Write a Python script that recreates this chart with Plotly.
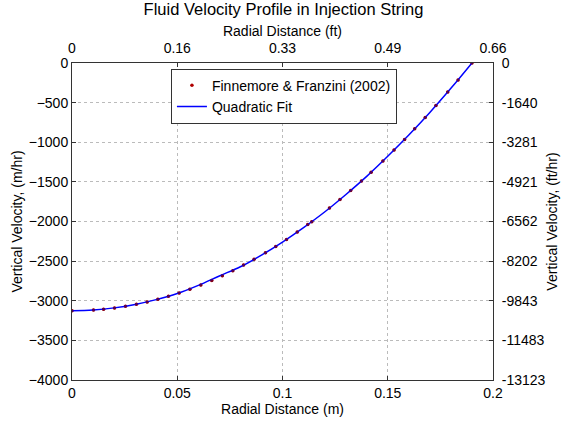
import plotly.graph_objects as go

# Measured data (radial distance in m, vertical velocity in m/hr)
radius_m = [0.0, 0.0102, 0.0150, 0.0202, 0.0254, 0.0306, 0.0357, 0.0408, 0.0458, 0.0509,
            0.0560, 0.0612, 0.0664, 0.0714, 0.0764, 0.0815, 0.0865, 0.0919, 0.0968, 0.1019,
            0.1070, 0.1120, 0.1139, 0.1223, 0.1273, 0.1324, 0.1375, 0.1421, 0.1477, 0.1530,
            0.1580, 0.1628, 0.1678, 0.1729, 0.1785, 0.1834, 0.1900]
velocity_mhr = [-3125, -3116, -3106, -3090, -3069, -3044, -3015, -2981, -2943, -2901,
                -2854, -2801, -2743, -2684, -2620, -2550, -2477, -2394, -2314, -2226,
                -2134, -2039, -2002, -1830, -1722, -1608, -1488, -1377, -1237, -1099,
                -964, -831, -688, -537, -367, -213, 0]

# Quadratic fit curve
fit_r = [0.0, 0.01, 0.02, 0.03, 0.04, 0.05, 0.06, 0.07, 0.08, 0.09, 0.10,
         0.11, 0.12, 0.13, 0.14, 0.15, 0.16, 0.17, 0.18, 0.19]
fit_v = [-3125, -3116, -3090, -3046, -2986, -2909, -2806, -2687, -2571, -2424, -2259,
         -2077, -1880, -1662, -1430, -1177, -909, -624, -320, 0]

# Axis ticks
x_ticks = [0, 0.05, 0.1, 0.15, 0.2]
x_ticks_m = ["0", "0.05", "0.1", "0.15", "0.2"]
x_ticks_ft = ["0", "0.16", "0.33", "0.49", "0.66"]
y_ticks = [0, -500, -1000, -1500, -2000, -2500, -3000, -3500, -4000]
y_ticks_ft = ["0", "-1640", "-3281", "-4921", "-6562", "-8202", "-9843", "-11483", "-13123"]

fam = "Liberation Sans, Arial, sans-serif"
tick_font = dict(family=fam, size=14, color="#000")
title_font = dict(family=fam, size=14, color="#000")

fig = go.Figure()
fig.add_trace(go.Scatter(x=radius_m, y=velocity_mhr, mode="markers",
                         name="Finnemore & Franzini (2002)",
                         marker=dict(color="#b00000", size=3.5, line=dict(width=0))))
fig.add_trace(go.Scatter(x=fit_r, y=fit_v, mode="lines", name="Quadratic Fit",
                         line=dict(color="#0000ff", width=1.5, shape="spline")))
fig.add_trace(go.Scatter(x=radius_m, y=velocity_mhr, mode="markers", showlegend=False,
                         hoverinfo="skip",
                         marker=dict(color="#600030", size=3, opacity=0.7, line=dict(width=0))))
fig.add_trace(go.Scatter(x=[0, 0.2], y=[0, -4000], xaxis="x2", yaxis="y2",
                         mode="markers", marker=dict(opacity=0), showlegend=False,
                         hoverinfo="skip"))

axis_common = dict(showline=True, linecolor="#333", linewidth=1, ticks="inside",
                   ticklen=4, tickcolor="#333", zeroline=False, tickfont=tick_font)

fig.update_layout(
    width=575, height=423,
    margin=dict(l=72, r=82, t=63, b=40),
    paper_bgcolor="white", plot_bgcolor="white",
    font=tick_font,
    title=dict(text="Fluid Velocity Profile in Injection String", x=0.493, xanchor="center",
               y=0.993, yanchor="top", font=dict(family=fam, size=16.5, color="#000")),
    xaxis=dict(range=[0, 0.2], tickvals=x_ticks, ticktext=x_ticks_m,
               title=dict(text="Radial Distance (m)", standoff=0, font=title_font),
               showgrid=True, gridcolor="#bbb", griddash="dot", mirror=False, **axis_common),
    yaxis=dict(range=[-4000, 0], tickvals=y_ticks,
               title=dict(text="Vertical Velocity, (m/hr)", standoff=2, font=title_font),
               showgrid=True, gridcolor="#bbb", griddash="dot", mirror=False, **axis_common),
    xaxis2=dict(range=[0, 0.2], overlaying="x", side="top", anchor="y2",
                tickvals=x_ticks, ticktext=x_ticks_ft, showgrid=False, ticklabelstandoff=3,
                title=dict(text="Radial Distance (ft)", standoff=0, font=title_font), **axis_common),
    yaxis2=dict(range=[-4000, 0], overlaying="y", side="right", anchor="x2",
                tickvals=y_ticks, ticktext=y_ticks_ft, showgrid=False, ticklabelstandoff=5,
                title=dict(text="Vertical Velocity, (ft/hr)", standoff=2, font=title_font), **axis_common),
    legend=dict(x=0.235, y=0.982, xanchor="left", yanchor="top", bgcolor="white",
                bordercolor="#333", borderwidth=1, font=dict(family=fam, size=14, color="#000"),
                tracegroupgap=0),
    showlegend=True,
)

fig.write_html("out.html")
